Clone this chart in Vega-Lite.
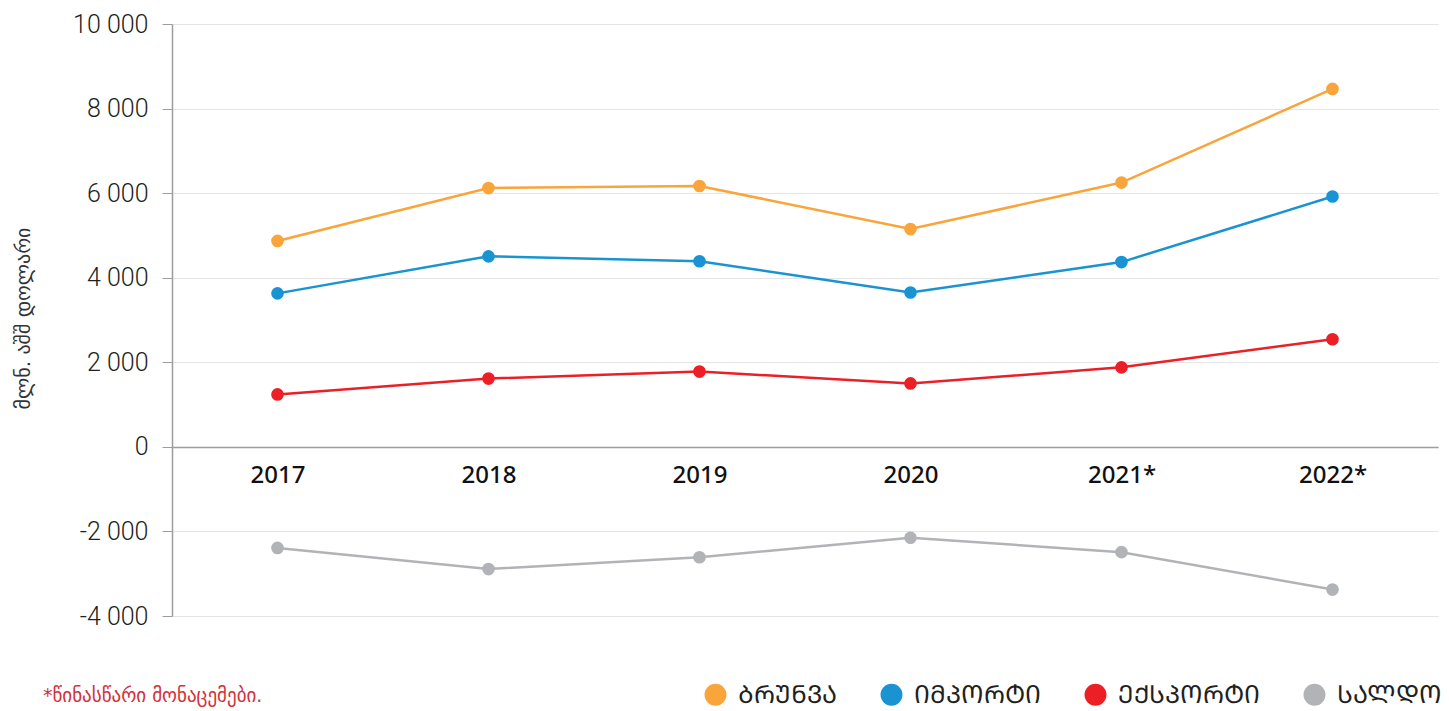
{
  "$schema": "https://vega.github.io/schema/vega-lite/v6.json",
  "autosize": "none",
  "width": 1266,
  "height": 592,
  "padding": {"left": 172, "top": 24, "right": 11, "bottom": 95},
  "background": "white",
  "title": {
    "text": "*წინასწარი მონაცემები.",
    "orient": "bottom",
    "anchor": "start",
    "frame": "group",
    "dx": -129,
    "offset": -21,
    "fontSize": 19,
    "font": "DejaVu Sans",
    "fontWeight": "normal",
    "color": "#d2323a"
  },
  "data": {
    "values": [
      {"year": "2017", "series": "ᲑᲠᲣᲜᲕᲐ", "value": 4870},
      {"year": "2018", "series": "ᲑᲠᲣᲜᲕᲐ", "value": 6120},
      {"year": "2019", "series": "ᲑᲠᲣᲜᲕᲐ", "value": 6170},
      {"year": "2020", "series": "ᲑᲠᲣᲜᲕᲐ", "value": 5150},
      {"year": "2021*", "series": "ᲑᲠᲣᲜᲕᲐ", "value": 6250},
      {"year": "2022*", "series": "ᲑᲠᲣᲜᲕᲐ", "value": 8465},
      {"year": "2017", "series": "ᲘᲛᲞᲝᲠᲢᲘ", "value": 3630},
      {"year": "2018", "series": "ᲘᲛᲞᲝᲠᲢᲘ", "value": 4505},
      {"year": "2019", "series": "ᲘᲛᲞᲝᲠᲢᲘ", "value": 4390},
      {"year": "2020", "series": "ᲘᲛᲞᲝᲠᲢᲘ", "value": 3650},
      {"year": "2021*", "series": "ᲘᲛᲞᲝᲠᲢᲘ", "value": 4370},
      {"year": "2022*", "series": "ᲘᲛᲞᲝᲠᲢᲘ", "value": 5920},
      {"year": "2017", "series": "ᲔᲥᲡᲞᲝᲠᲢᲘ", "value": 1240},
      {"year": "2018", "series": "ᲔᲥᲡᲞᲝᲠᲢᲘ", "value": 1615},
      {"year": "2019", "series": "ᲔᲥᲡᲞᲝᲠᲢᲘ", "value": 1780},
      {"year": "2020", "series": "ᲔᲥᲡᲞᲝᲠᲢᲘ", "value": 1500},
      {"year": "2021*", "series": "ᲔᲥᲡᲞᲝᲠᲢᲘ", "value": 1880},
      {"year": "2022*", "series": "ᲔᲥᲡᲞᲝᲠᲢᲘ", "value": 2545},
      {"year": "2017", "series": "ᲡᲐᲚᲓᲝ", "value": -2390},
      {"year": "2018", "series": "ᲡᲐᲚᲓᲝ", "value": -2890},
      {"year": "2019", "series": "ᲡᲐᲚᲓᲝ", "value": -2610},
      {"year": "2020", "series": "ᲡᲐᲚᲓᲝ", "value": -2150},
      {"year": "2021*", "series": "ᲡᲐᲚᲓᲝ", "value": -2490},
      {"year": "2022*", "series": "ᲡᲐᲚᲓᲝ", "value": -3375}
    ]
  },
  "encoding": {
    "x": {
      "field": "year",
      "type": "ordinal",
      "sort": null,
      "scale": {"type": "point", "padding": 0.5},
      "axis": {
        "title": null,
        "orient": "bottom",
        "offset": -169.1,
        "labelAngle": 0,
        "ticks": false,
        "grid": false,
        "domainColor": "#9d9d9d",
        "domainWidth": 1.5,
        "labelPadding": 17,
        "labelFontSize": 24,
        "labelFont": "Noto Sans",
        "labelFontWeight": 500,
        "labelColor": "#111111"
      }
    },
    "y": {
      "field": "value",
      "type": "quantitative",
      "scale": {"domain": [-4000, 10000], "nice": false},
      "axis": {
        "values": [-4000, -2000, 0, 2000, 4000, 6000, 8000, 10000],
        "labelExpr": "(datum.value < 0 ? '-' : '') + replace(format(abs(datum.value), ','), ',', ' ')",
        "title": "მლნ. აშშ დოლარი",
        "titleX": -149,
        "titleY": 294,
        "titleAngle": -90,
        "titleAlign": "center",
        "titleBaseline": "middle",
        "titleFontSize": 20,
        "titleFont": "DejaVu Sans",
        "titleFontWeight": "normal",
        "titleColor": "#333333",
        "grid": true,
        "gridColor": "#e4e4e4",
        "gridWidth": 1,
        "domainColor": "#9d9d9d",
        "domainWidth": 1.5,
        "tickColor": "#9d9d9d",
        "tickSize": 10,
        "labelPadding": 14,
        "labelFontSize": 25,
        "labelFont": "Roboto",
        "labelFontWeight": 300,
        "labelColor": "#231f20"
      }
    },
    "color": {
      "field": "series",
      "type": "nominal",
      "scale": {
        "domain": ["ᲑᲠᲣᲜᲕᲐ", "ᲘᲛᲞᲝᲠᲢᲘ", "ᲔᲥᲡᲞᲝᲠᲢᲘ", "ᲡᲐᲚᲓᲝ"],
        "range": ["#f9a53b", "#1a93d3", "#ec1f27", "#b1b3b6"]
      },
      "legend": {
        "title": null,
        "orient": "none",
        "direction": "horizontal",
        "legendX": 531,
        "legendY": 658,
        "symbolType": "circle",
        "symbolSize": 480,
        "symbolStrokeWidth": 0,
        "symbolOpacity": 1,
        "labelFontSize": 25,
        "labelFont": "DejaVu Sans",
        "labelColor": "#231f20",
        "labelOffset": 10,
        "columnPadding": 42
      }
    }
  },
  "layer": [
    {"mark": {"type": "line", "strokeWidth": 2.5}},
    {"mark": {"type": "point", "filled": true, "size": 160, "opacity": 1}}
  ],
  "config": {
    "view": {"stroke": null}
  }
}
